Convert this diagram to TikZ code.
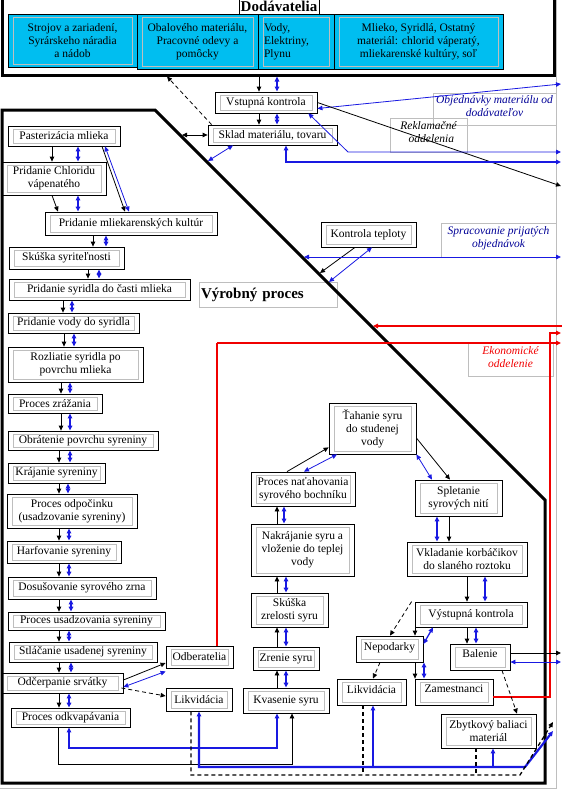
\documentclass[tikz,border=0pt]{standalone}
\usepackage{fontspec}
\setmainfont{Liberation Serif}
\usetikzlibrary{arrows.meta}

\definecolor{dodcyan}{RGB}{0,190,240}
\definecolor{mod}{RGB}{25,25,225}
\definecolor{tmod}{RGB}{0,0,150}
\definecolor{krv}{RGB}{240,0,0}
\definecolor{siva}{RGB}{190,190,190}

\tikzset{
  krok/.style={draw, line width=.8pt, fill=white, align=center, inner sep=0pt,
    font=\fontsize{11.5}{13}\selectfont,
    path picture={\draw[siva, line width=.8pt]
      ([shift={(5pt,-3pt)}]path picture bounding box.north west) rectangle
      ([shift={(-5pt,3pt)}]path picture bounding box.south east);}},
  rozmer/.style 2 args={minimum width=#1pt, minimum height=#2pt},
  hore/.style={text depth=#1pt},
  popis/.style={draw=siva, line width=.8pt, align=center, inner sep=0pt,
    font=\itshape\fontsize{11.5}{13}\selectfont},
  sip/.style={->, line width=.8pt},
  obojs/.style={<->, draw=mod, line width=1.3pt},
  obojt/.style={<->, draw=mod, line width=.8pt},
  cerv/.style={->, krv, line width=1.2pt},
  cervh/.style={->, krv, line width=1.8pt},
}

\begin{document}
\begin{tikzpicture}[x=1pt, y=-1pt, >={Triangle[length=5pt,width=4.5pt]}]
  \useasboundingbox (0,0) rectangle (562,790);

  % dodavatelia
  \node[draw, line width=3pt, rozmer={552}{80}, inner sep=0pt] (dod) at (278.5,35) {};
  \node[draw, line width=.8pt, fill=white, inner sep=0pt, rozmer={80}{18},
    font=\bfseries\fontsize{15}{17}\selectfont] (dodnadpis) at (279,6) {Dodávatelia};
  \begin{scope}[every node/.style={krok, fill=dodcyan}]
    \node[rozmer={129}{53}] (dod1) at (72.5,40.5) {Strojov a zariadení,\\Syrárskeho náradia\\a nádob};
    \node[rozmer={121}{55}] (dod2) at (197.5,41.5) {Obalového materiálu,\\Pracovné odevy a\\pomôcky};
    \node[rozmer={76}{55}, text width=64pt, align=left] (dod3) at (296,41.5) {Vody,\\Elektriny,\\Plynu};
    \node[rozmer={169}{55}] (dod4) at (418.5,41.5) {Mlieko, Syridlá, Ostatný\\materiál: chlorid váperatý,\\mliekarenské kultúry, soľ};
  \end{scope}

  % popisy oddeleni
  \node[popis, text=tmod, rozmer={123}{32}, hore=5] (obj) at (494.5,109) {Objednávky materiálu od\\dodávateľov};
  \node[popis, rozmer={77}{34}, hore=6] (rekl) at (428.5,135) {Reklamačné\qquad\\\ \ oddelenia};
  \node[popis, text=tmod, rozmer={115}{34}, hore=5] (sprac) at (498.5,240) {Spracovanie prijatých\\objednávok};
  \node[popis, text=krv, rozmer={85}{34}, hore=5] (ekon) at (510.5,359) {Ekonomické\\oddelenie};
  \node[draw=siva, line width=.8pt, rozmer={138}{25}, text width=134pt, inner sep=0pt,
    font=\bfseries\fontsize{15}{17}\selectfont] (vyr) at (268,294.5) {Výrobný proces};

  \begin{scope}[every node/.style={krok}]
    \node[rozmer={102}{21}] (vstup) at (266,102.5) {Vstupná kontrola};
    \node[rozmer={129}{20}] (sklad) at (272.5,135) {Sklad materiálu, tovaru};
    \node[rozmer={95}{25}]  (tepl)  at (368.5,234.5) {Kontrola teploty};

    \node[rozmer={112}{20}] (past)  at (64,136)     {Pasterizácia mlieka};
    \node[rozmer={104}{33}] (chlor) at (54,178.5)   {Pridanie Chloridu\\vápenatého};
    \node[rozmer={172}{23}] (kult)  at (131,223.5)  {Pridanie mliekarenských kultúr};
    \node[rozmer={115}{22}] (skus)  at (66.5,258)   {Skúška syriteľnosti};
    \node[rozmer={181}{21}] (syrid) at (99.5,289.5) {Pridanie syridla do časti mlieka};
    \node[rozmer={131}{20}] (voda)  at (73.5,323)   {Pridanie vody do syridla};
    \node[rozmer={135}{35}] (rozl)  at (75.5,364.5) {Rozliatie syridla po\\povrchu mlieka};
    \node[rozmer={94}{19}]  (zraz)  at (55,403.5)   {Proces zrážania};
    \node[rozmer={150}{19}] (obrat) at (83,440.5)   {Obrátenie povrchu syreniny};
    \node[rozmer={97}{20}]  (kraj)  at (56.5,473)   {Krájanie syreniny};
    \node[rozmer={130}{34}] (odpoc) at (72,511)     {Proces odpočinku\\(usadzovanie syreniny)};
    \node[rozmer={114}{22}] (harf)  at (64,552)     {Harfovanie syreniny};
    \node[rozmer={148}{22}] (dosus) at (82,588)     {Dosušovanie syrového zrna};
    \node[rozmer={157}{18}] (usad)  at (86.5,621)   {Proces usadzovania syreniny};
    \node[rozmer={148}{20}] (stlac) at (83,652)     {Stláčanie usadenej syreniny};
    \node[rozmer={121}{20}] (odcer) at (62.5,683)   {Odčerpanie srvátky};
    \node[rozmer={119}{19}] (odkv)  at (70.5,717.5) {Proces odkvapávania};
    \node[rozmer={67}{22}]  (odber) at (199.5,657)  {Odberatelia};
    \node[rozmer={66}{23}]  (likv)  at (199,699.5)  {Likvidácia};

    \node[rozmer={87}{51}]  (tahan) at (372.5,428.5) {Ťahanie syru\\do studenej\\vody};
    \node[rozmer={104}{34}] (natah) at (303,489)     {Proces naťahovania\\syrového bochníku};
    \node[rozmer={87}{36}]  (splet) at (458.5,498)   {Spletanie\\syrových nití};
    \node[rozmer={103}{52}] (nakr)  at (302.5,550)   {Nakrájanie syru a\\vloženie do teplej\\vody};
    \node[rozmer={120}{34}] (vklad) at (467,559)     {Vkladanie korbáčikov\\do slaného roztoku};
    \node[rozmer={77}{34}]  (zrel)  at (289.5,610)   {Skúška\\zrelosti syru};
    \node[rozmer={66}{23}]  (zren)  at (286,658.5)   {Zrenie syru};
    \node[rozmer={86}{25}]  (kvas)  at (286,700.5)   {Kvasenie syru};
    \node[rozmer={112}{25}] (vyst)  at (471,614.5)   {Výstupná kontrola};
    \node[rozmer={67}{26}, hore=5]  (nepod) at (389.5,649) {Nepodarky};
    \node[rozmer={60}{26}, hore=6]  (bal)   at (480,657)   {Balenie};
    \node[rozmer={69}{26}, hore=6]  (likv2) at (371.5,692) {Likvidácia};
    \node[rozmer={78}{26}, hore=6]  (zam)   at (454,692)   {Zamestnanci};
    \node[rozmer={95}{34}]  (zbyt)  at (488.5,731)   {Zbytkový baliaci\\materiál};
  \end{scope}

  % ramec vyrobneho procesu
  \draw[line width=3pt] (2,110) -- (155,110) -- (545,500) -- (545,783) -- (2,783) -- cycle;
  \draw[siva, line width=.8pt] (556,0) -- (556,788) -- (0,788);

  % body na ramci a na okraji
  \coordinate (d135) at (182,135);
  \coordinate (d161) at (208,161);
  \coordinate (d257) at (304,257);
  \coordinate (d273) at (320,273);
  \coordinate (d282) at (329,282);
  \coordinate (d326) at (373,326);
  \coordinate (r84)  at (561,84);
  \coordinate (r152) at (561,152);
  \coordinate (r162) at (561,162);
  \coordinate (r186) at (561,186);
  \coordinate (r257) at (561,257);
  \coordinate (r326) at (562,326);
  \coordinate (r333) at (561,333);
  \coordinate (r343) at (561,343);
  \coordinate (r653) at (561,653);
  \coordinate (r662) at (561,662);
  \coordinate (c732) at (553,731);
  \coordinate (c723) at (553,722);
  \coordinate (o343) at (217,343);

  % vstup a sklad
  \draw[sip]   (dod.south -| 259,0) -- (vstup.north -| 259,0);
  \draw[obojs] (dod.south -| 277,0) -- (vstup.north -| 277,0);
  \draw[sip]   (vstup.south -| 259,0) -- (sklad.north -| 259,0);
  \draw[obojs] (vstup.south -| 277,0) -- (sklad.north -| 277,0);
  \draw[sip, dash pattern=on 4pt off 3pt] ([xshift=4pt]sklad.north west) -- (dod.south -| 167,0);
  \draw[sip, <->] (d135) -- (sklad.west);
  \draw[obojt] (d161) -- (sklad.south -| 233,0);
  \draw[obojt] ([yshift=-6pt]vstup.east) -- (r84);
  \draw[sip]   (vstup.east) -- (r186);
  \draw[obojt] ([xshift=-9pt]vstup.south east) -- (348,152) -- (r152);
  \draw[obojs] (sklad.south -| 286,0) |- (r162);

  \draw[sip]   (tepl.south -| 355,0) -- (d273);
  \draw[obojt] (tepl.south -| 372,0) -- (d282);
  \draw[obojt] (d257) -- (r257);

  \draw[cerv]  (r326) -- (d326);
  \draw[krv, line width=1.2pt] (odber.north -| o343) -- (o343);
  \draw[cerv]  (o343) -- (r343);
  \draw[cervh] ([yshift=-5pt]zam.east) -| (550,333) -- (r333);

  % postup vyroby
  \foreach \a/\b/\k/\m in {past/chlor/52/78, kult/skus/93/106, skus/syrid/88/99,
      syrid/voda/63/72, voda/rozl/64/74, rozl/zraz/61/70, zraz/obrat/61/70,
      obrat/kraj/59/70, kraj/odpoc/59/68, odpoc/harf/59/69, harf/dosus/59/69,
      dosus/usad/59/71, usad/stlac/59/69, stlac/odcer/59/71, odcer/odkv/59/69,
      splet/vklad/449/437, vklad/vyst/467/485, vyst/bal/467/476}
  {
    \draw[sip]   (\a.south -| \k,0) -- (\b.north -| \k,0);
    \draw[obojs] (\a.south -| \m,0) -- (\b.north -| \m,0);
  }
  \foreach \a/\b/\m in {kvas/zren/286, zren/zrel/286, zrel/nakr/286, nakr/natah/284}
  {
    \draw[sip]   (\a.north -| 277,0) -- (\b.south -| 277,0);
    \draw[obojs] (\a.north -| \m,0) -- (\b.south -| \m,0);
  }
  \draw[sip]   (chlor.south -| 52,0) -- (kult.north -| 58,0);
  \draw[obojs] (chlor.south -| 78,0) -- (kult.north -| 78,0);
  \draw[sip]   (past.south -| 102,0) -- (kult.north -| 125,0);
  \draw[obojt] (past.south -| 105,0) -- (kult.north -| 129,0);

  \draw[sip]   ([yshift=3pt]odcer.east) -- ([yshift=-6pt]odber.west);
  \draw[obojt] ([yshift=-4pt]odcer.east) -- ([yshift=-3pt]odber.south west);
  \draw[sip, dash pattern=on 4pt off 3pt] ([xshift=-2pt,yshift=-5pt]odcer.east) -- ([yshift=3.5pt]likv.west);

  \draw[sip]   (natah.north -| 287,0) -- ([yshift=7pt]tahan.south west);
  \draw[obojt] (natah.north -| 304,0) -- (tahan.south -| 337,0);
  \draw[sip]   ([yshift=-9.5pt]tahan.east) -- (splet.north -| 450,0);
  \draw[obojt] (tahan.south east) -- (splet.north -| 432,0);

  \draw[sip]   (vyst.south -| 415,0) -- (nepod.north -| 415,0);
  \draw[sip, dash pattern=on 4pt off 3pt] ([xshift=-3pt]vyst.north west) -- (nepod.north -| 390,0);
  \draw[obojs] ([yshift=5pt]nepod.east) -- (vyst.south -| 433,0);
  \draw[sip, dash pattern=on 4pt off 3pt] (nepod.south -| 380,0) -- (likv2.north -| 373,0);
  \draw[sip]   (nepod.south -| 415,0) -- (zam.north -| 415,0);
  \draw[obojs] (nepod.south -| 424,0) -- (zam.north -| 424,0);
  \draw[sip, dash pattern=on 4pt off 3pt] (bal.south -| 502,0) -- (zbyt.north -| 517,0);
  \draw[sip]   ([yshift=4pt]bal.east) -- (r653);
  \draw[obojt] ([yshift=-5pt]bal.east) -- (r662);

  % spodne vedenia
  \draw[obojs] (odkv.south -| 69,0) |- (277,748) -- (kvas.south -| 277,0);
  \draw[sip]   (odkv.south -| 58,0) |- (292,764) -- (kvas.south -| 292,0);
  \draw[obojs, line width=2.2pt] (likv.south) -- (199,767) -- (525,767) -- (c732);
  \draw[->, draw=mod, line width=1.2pt] (373,767) -- (likv2.south -| 373,0);
  \draw[->, draw=mod, line width=1.2pt] (493,767) -- (zbyt.south -| 493,0);
  \draw[sip, line width=1.3pt, dash pattern=on 4pt off 3pt] (likv.south -| 191,0) |- (520,775) -- (c723);
  \draw[line width=1.3pt, dash pattern=on 4pt off 3pt] (likv2.south -| 363,0) -- (363,775);
  \draw[line width=1.3pt, dash pattern=on 4pt off 3pt] (zbyt.south -| 476,0) -- (476,775);

\end{tikzpicture}
\end{document}
